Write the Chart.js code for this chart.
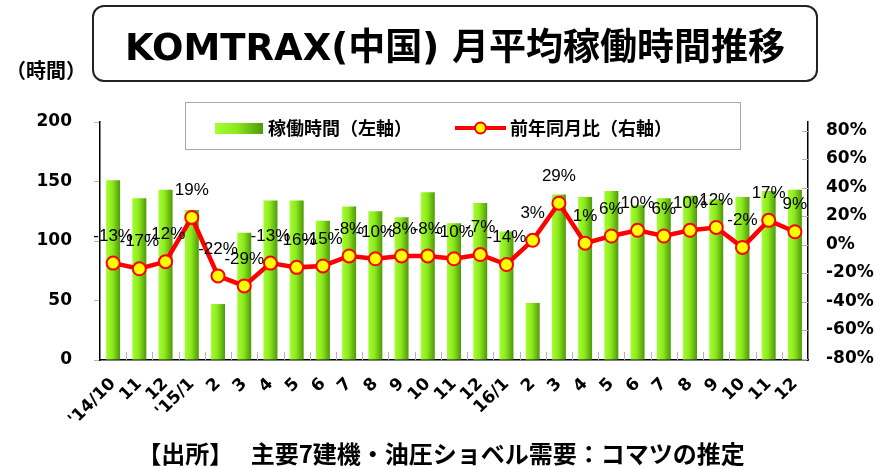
<!DOCTYPE html>
<html lang="ja">
<head>
<meta charset="UTF-8">
<title>KOMTRAX(中国) 月平均稼働時間推移</title>
<script src="https://cdn.jsdelivr.net/npm/chart.js"></script>
<style>
  body { margin: 0; background: #fff; }
  #wrap { position: relative; width: 875px; height: 468px; overflow: hidden; }
  #wrap canvas { position: absolute; left: 0; top: 0; }
  #title {
    position: absolute; left: 92px; top: 5px; width: 726px; height: 77px;
    box-sizing: border-box; border: 2px solid #222; border-radius: 12px;
    display: flex; align-items: center; justify-content: center;
    font: bold 37px "DejaVu Sans", "Noto Sans CJK JP"; color: #000; white-space: nowrap;
  }
  #unit { position: absolute; left: 6px; top: 55px; font: bold 20px "Noto Sans CJK JP"; color: #000; }
  #source {
    position: absolute; left: 0; width: 882px; top: 435px; text-align: center;
    font: bold 24px "Noto Sans CJK JP"; color: #000; white-space: pre;
  }
</style>
</head>
<body>
<div id="wrap">
  <canvas id="myChart"></canvas>
  <div id="title">KOMTRAX(中国) 月平均稼働時間推移</div>
  <div id="unit">（時間）</div>
  <div id="source">【出所】　 主要7建機・油圧ショベル需要：コマツの推定</div>
</div>
<script>
const months = ["'14/10", "11", "12", "'15/1", "2", "3", "4", "5", "6", "7", "8", "9", "10", "11", "12",
  "16/1", "2", "3", "4", "5", "6", "7", "8", "9", "10", "11", "12"];
const hours = [151, 136, 143, 126, 47, 107, 134, 134, 117, 129, 125, 120, 141, 115, 132,
  108, 48, 139, 137, 142, 130, 136, 138, 135, 137, 142, 143];
const yoy = [-13, -17, -12, 19, -22, -29, -13, -16, -15, -8, -10, -8, -8, -10, -7,
  -14, 3, 29, 1, 6, 10, 6, 10, 12, -2, 17, 9];
const leftTicks = [0, 50, 100, 150, 200];
const rightTicks = [-80, -60, -40, -20, 0, 20, 40, 60, 80];

const barPct = 0.534;

function greenGrad(c, x0, x1) {
  const g = c.createLinearGradient(x0, 0, x1, 0);
  g.addColorStop(0, "#a2ff30");
  g.addColorStop(0.45, "#8ee81e");
  g.addColorStop(1, "#4c9a08");
  return g;
}

const extras = {
  id: "extras",
  beforeDatasetsDraw(chart) {
    const c = chart.ctx;
    const a = chart.chartArea;
    const y1 = chart.scales.y1;
    c.save();
    c.strokeStyle = "#b4b4b4";
    c.lineWidth = 1;
    c.beginPath();
    for (let i = 1; i < months.length; i++) {
      const px = Math.round(a.left + (a.right - a.left) * i / months.length) + 0.5;
      c.moveTo(px, a.bottom - 8);
      c.lineTo(px, a.bottom);
    }
    rightTicks.forEach(v => {
      const py = Math.round(y1.getPixelForValue(v)) + 0.5;
      c.moveTo(a.right - 6, py);
      c.lineTo(a.right, py);
    });
    c.stroke();
    c.restore();
  },
  afterDatasetsDraw(chart) {
    const c = chart.ctx;
    const meta = chart.getDatasetMeta(1);
    c.save();
    c.font = '17px "Liberation Sans Narrow", "Liberation Sans"';
    c.fillStyle = "#000";
    c.textAlign = "center";
    c.textBaseline = "middle";
    meta.data.forEach((p, i) => {
      c.fillText(yoy[i] + "%", p.x, p.y - 27);
    });
    c.restore();
  },
  afterDraw(chart) {
    // legend box
    const c = chart.ctx;
    const ds = chart.data.datasets;
    c.save();
    c.fillStyle = "#fff";
    c.fillRect(185, 102, 555, 47);
    c.strokeStyle = "#a8a8a8";
    c.lineWidth = 1;
    c.strokeRect(185.5, 102.5, 555, 47);
    c.fillStyle = greenGrad(c, 215, 263);
    c.fillRect(215, 123, 48, 11);
    c.strokeStyle = "#ff0000";
    c.lineWidth = 4;
    c.beginPath();
    c.moveTo(455, 128);
    c.lineTo(506, 128);
    c.stroke();
    c.beginPath();
    c.arc(480.5, 128, 5.5, 0, Math.PI * 2);
    c.fillStyle = "#ffff00";
    c.fill();
    c.lineWidth = 2;
    c.stroke();
    c.fillStyle = "#000";
    c.font = 'bold 18px "Noto Sans CJK JP"';
    c.textBaseline = "middle";
    c.textAlign = "left";
    c.fillText(ds[0].label, 268, 128);
    c.fillText(ds[1].label, 510, 128);
    c.restore();
  }
};

const data = {
  labels: months,
  datasets: [{
    type: "bar",
    label: "稼働時間（左軸）",
    data: hours,
    yAxisID: "y",
    order: 1,
    barPercentage: barPct,
    categoryPercentage: 1,
    backgroundColor: function (ctx) {
      const chart = ctx.chart;
      const x = chart.scales.x;
      if (!x || ctx.type !== "data") return "#8ee81e";
      const cx = x.getPixelForValue(ctx.dataIndex);
      const hw = x.width / months.length * barPct / 2;
      if (!isFinite(cx) || !isFinite(hw) || hw <= 0) return "#8ee81e";
      return greenGrad(chart.ctx, cx - hw, cx + hw);
    },
  }, {
    type: "line",
    label: "前年同月比（右軸）",
    data: yoy,
    yAxisID: "y1",
    order: 0,
    borderColor: "#ff0000",
    borderWidth: 4.5,
    pointRadius: 6.5,
    pointBorderWidth: 2,
    pointBackgroundColor: "#ffff00",
    pointBorderColor: "#ff0000",
    tension: 0,
  }],
};

const tickFont = { family: '"DejaVu Sans"', size: 17, weight: "bold" };

const config = {
  data: data,
  options: {
    responsive: true,
    maintainAspectRatio: false,
    animation: false,
    events: [],
    layout: { padding: { top: 122, left: 0, right: 0, bottom: 0 } },
    plugins: { legend: { display: false }, tooltip: { enabled: false } },
    scales: {
      x: {
        grid: { display: false },
        border: { display: true, color: "#000", width: 1.5 },
        ticks: { color: "#000", font: tickFont, minRotation: 45, maxRotation: 45, autoSkip: false, padding: 6 },
        afterFit: s => { s.height = 108; },
      },
      y: {
        position: "left",
        min: 0,
        max: 200,
        afterBuildTicks: s => { s.ticks = leftTicks.map(v => ({ value: v })); },
        grid: { drawOnChartArea: false, tickLength: 6, color: "#b4b4b4" },
        border: { color: "#000", width: 1.5 },
        ticks: { color: "#000", font: tickFont, padding: 22 },
        afterFit: s => { s.width = 100; },
      },
      y1: {
        position: "right",
        min: -81,
        max: 86,
        afterBuildTicks: s => { s.ticks = rightTicks.map(v => ({ value: v })); },
        grid: { drawOnChartArea: false, drawTicks: false },
        border: { color: "#000", width: 1.5 },
        ticks: { color: "#000", font: tickFont, padding: 18, callback: v => v + "%" },
        afterFit: s => { s.width = 67; },
      },
    },
  },
  plugins: [extras],
};

const myChart = new Chart(document.getElementById("myChart"), config);
myChart.update();
</script>
</body>
</html>
